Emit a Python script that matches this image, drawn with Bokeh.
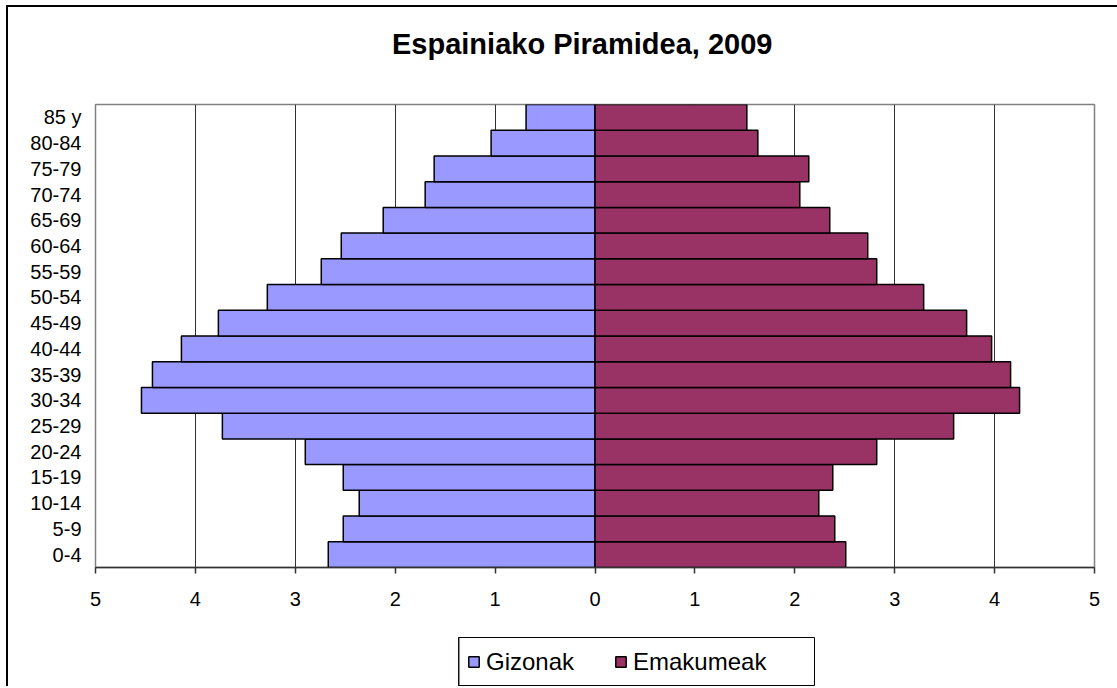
from bokeh.plotting import figure
from bokeh.layouts import column
from bokeh.models import (FactorRange, FixedTicker, Legend, LegendItem, ColumnDataSource,
                          Range1d, Div)
from bokeh.embed import file_html
from bokeh.resources import INLINE

# Data (bottom to top)
ages = ["0-4", "5-9", "10-14", "15-19", "20-24", "25-29", "30-34", "35-39", "40-44",
        "45-49", "50-54", "55-59", "60-64", "65-69", "70-74", "75-79", "80-84", "85 y"]
gizonak = [2.67, 2.52, 2.36, 2.52, 2.90, 3.73, 4.54, 4.43, 4.14,
           3.77, 3.28, 2.74, 2.54, 2.12, 1.70, 1.61, 1.04, 0.69]
emakumeak = [2.51, 2.40, 2.24, 2.38, 2.82, 3.59, 4.25, 4.16, 3.97,
             3.72, 3.29, 2.82, 2.73, 2.35, 2.05, 2.14, 1.63, 1.52]
x_ticks = [-5, -4, -3, -2, -1, 0, 1, 2, 3, 4, 5]
x_tick_labels = ["5", "4", "3", "2", "1", "0", "1", "2", "3", "4", "5"]
title_text = "Espainiako Piramidea, 2009"
series_names = ["Gizonak", "Emakumeak"]

FONT = "Liberation Sans"
MEN_COLOR = "#9999FF"
WOMEN_COLOR = "#993366"
BL, BR = 87, 23  # left / right borders shared by both figures (column aligns frames)

src = ColumnDataSource(dict(
    age=ages,
    men=[-v for v in gizonak],
    women=emakumeak,
))

title_div = Div(
    text=(f'<div style="font-family:\'{FONT}\';font-size:29px;font-weight:bold;'
          f'color:black;line-height:normal;padding-left:384px;padding-top:21px;'
          f'white-space:nowrap">{title_text}</div>'),
    width=1109, height=90, margin=0)

p = figure(width=1109, height=540, output_backend="svg", toolbar_location=None,
           y_range=FactorRange(*ages, range_padding=0),
           x_range=Range1d(-5, 5),
           min_border_left=BL, min_border_right=BR, min_border_top=7, min_border_bottom=70,
           margin=0)

bar_kw = dict(line_color="black", line_width=1.5, height=1.0, source=src)
p.hbar(y="age", left="men", right=0, fill_color=MEN_COLOR, **bar_kw)
p.hbar(y="age", left=0, right="women", fill_color=WOMEN_COLOR, **bar_kw)

p.background_fill_color = "white"
p.border_fill_color = "white"
p.outline_line_color = "#808080"
p.outline_line_width = 1.5

p.ygrid.grid_line_color = None
p.xgrid.ticker = FixedTicker(ticks=x_ticks)
p.xgrid.grid_line_color = "#333333"
p.xgrid.grid_line_width = 1

xa = p.xaxis[0]
xa.ticker = FixedTicker(ticks=x_ticks)
xa.major_label_overrides = {t: l for t, l in zip(x_ticks, x_tick_labels)}
xa.major_label_text_font = FONT
xa.major_label_text_font_size = "20px"
xa.major_label_text_color = "black"
xa.major_tick_out = 6
xa.major_tick_in = 0
xa.minor_tick_line_color = None
xa.axis_line_color = "#333333"
xa.axis_line_width = 1.5
xa.major_tick_line_color = "#333333"
xa.major_tick_line_width = 1.5
xa.major_label_standoff = 18

ya = p.yaxis[0]
ya.axis_line_color = None
ya.major_tick_line_color = None
ya.minor_tick_line_color = None
ya.major_label_text_font = FONT
ya.major_label_text_font_size = "20px"
ya.major_label_text_color = "black"
ya.major_label_standoff = 8

# Legend box as a small separate figure (its bars are kept out of its view)
lf = figure(width=356 + BL + BR, height=49, output_backend="svg", toolbar_location=None,
            y_range=FactorRange(*ages), x_range=Range1d(10, 11),
            min_border_left=BL, min_border_right=BR, min_border_top=0, min_border_bottom=0,
            margin=(0, 0, 0, 363))
lf.axis.visible = False
lf.grid.visible = False
lf.outline_line_color = "black"
lf.outline_line_width = 1
lf.background_fill_color = "white"
lf.border_fill_color = None
l1 = lf.hbar(y="age", left="men", right=0, fill_color=MEN_COLOR, **bar_kw)
l2 = lf.hbar(y="age", left=0, right="women", fill_color=WOMEN_COLOR, **bar_kw)

legend = Legend(items=[LegendItem(label=series_names[0], renderers=[l1]),
                       LegendItem(label=series_names[1], renderers=[l2])],
                orientation="horizontal", location="left")
legend.label_text_font = FONT
legend.label_text_font_size = "24px"
legend.label_text_color = "black"
legend.glyph_width = 13
legend.glyph_height = 13
legend.label_standoff = 6
legend.label_width = 128
legend.label_height = 26
legend.spacing = 0
legend.padding = 10
legend.margin = 9
legend.border_line_color = None
legend.background_fill_alpha = 0
lf.add_layout(legend, "center")

layout = column(title_div, p, lf, spacing=0, margin=(5, 0, 0, 6),
                styles={"border-left": "2px solid black", "border-top": "2px solid black"})

open("out.html", "w").write(file_html(layout, INLINE))
